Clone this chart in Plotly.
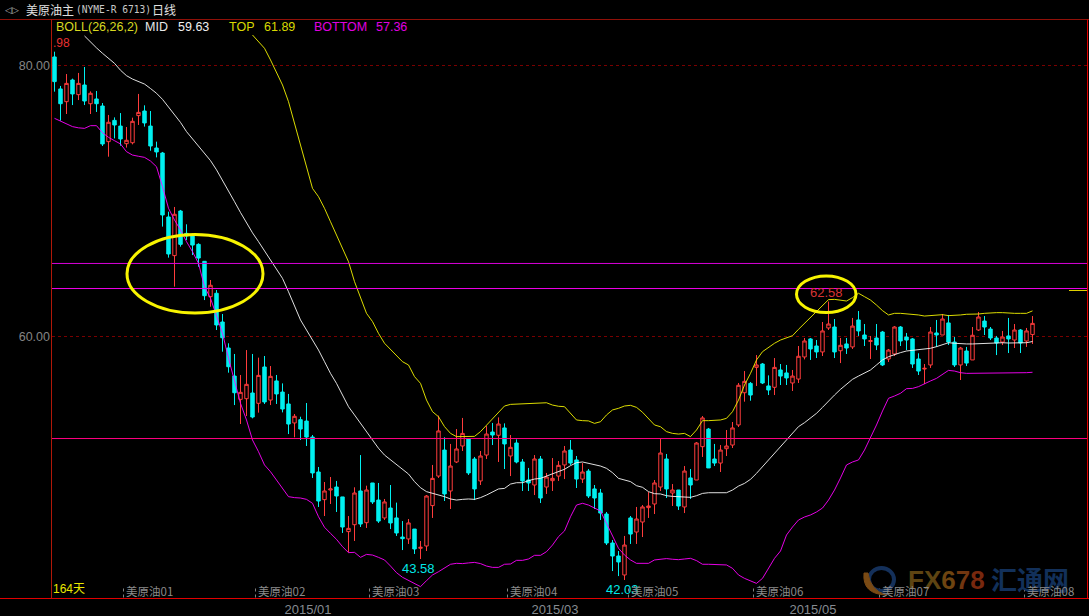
import plotly.graph_objects as go

open_ = [80.63,78.27,77.33,78.93,77.85,78.56,77.18,77.53,77.01,74.38,
75.95,75.53,74.23,74.30,76.30,76.64,75.53,73.91,73.54,68.82,
65.97,69.26,67.61,67.47,66.80,65.55,62.94,63.19,61.07,59.15,
57.08,55.36,55.41,55.83,55.07,57.75,55.31,56.72,55.90,55.02,
53.62,53.86,53.76,52.58,50.00,47.96,48.67,48.89,48.16,45.60,
46.11,48.60,46.26,49.19,47.93,46.61,47.34,46.61,45.20,45.06,
45.79,44.37,44.54,47.52,49.70,51.62,48.60,50.74,51.92,52.44,
50.96,49.34,51.25,52.95,52.71,53.25,51.18,52.14,50.74,49.41,
49.04,50.96,48.89,49.36,49.70,50.52,51.62,50.89,49.48,50.07,
48.75,48.45,46.90,44.76,43.80,42.40,46.61,45.57,46.31,47.37,
47.64,48.89,50.96,48.45,48.67,47.42,49.56,49.41,51.87,53.17,
50.96,50.66,51.72,51.99,53.47,55.85,56.54,57.72,57.97,56.35,
56.25,57.53,57.31,56.57,56.86,58.49,59.82,59.30,58.86,60.63,
60.70,58.95,59.45,59.23,61.22,60.11,59.64,59.89,60.33,58.34,
58.71,60.70,59.96,59.82,58.34,57.60,57.90,60.26,60.11,61.00,
59.59,57.90,58.93,58.27,60.48,61.14,60.55,59.89,59.59,60.04,
59.74,60.48,59.67,60.14]

close = [78.81,77.18,78.68,77.90,78.68,77.38,77.95,77.18,74.21,75.81,
75.61,74.58,74.48,75.88,76.54,75.76,74.06,73.62,68.97,66.09,
69.02,66.80,67.42,66.75,65.79,63.01,63.78,60.85,59.91,57.77,
55.85,55.88,56.47,54.06,57.13,55.17,57.06,55.76,54.65,53.54,
54.11,53.17,52.58,49.93,47.86,48.60,48.75,48.23,45.94,45.84,
48.45,46.16,48.67,47.79,46.38,47.79,46.24,45.50,45.08,46.24,
44.32,44.44,48.23,49.53,53.03,48.38,50.44,51.70,52.85,49.93,
48.75,51.18,52.80,52.73,53.54,52.07,51.82,50.74,49.34,49.19,
50.96,48.08,49.63,49.53,50.49,51.55,50.66,49.48,50.00,48.23,
48.08,46.97,44.76,43.80,43.36,44.61,45.42,46.53,47.42,47.49,
49.19,51.40,48.75,48.67,47.49,50.07,49.04,52.14,53.99,50.30,
50.66,51.62,51.92,53.25,56.40,56.69,55.68,57.90,56.57,56.05,
57.72,57.08,56.94,57.08,58.54,59.67,59.08,58.86,60.41,60.92,
58.86,59.35,59.15,60.77,60.41,59.82,59.69,59.37,57.90,59.00,
60.70,59.67,59.74,57.97,57.45,57.65,60.33,60.11,61.29,59.59,
57.90,59.15,58.04,60.09,61.44,60.70,59.89,59.52,59.96,59.82,
60.48,59.52,60.41,60.97]

high = [81.02,78.49,79.37,79.03,79.45,79.89,78.09,78.12,77.23,76.35,
76.17,76.49,75.46,76.15,77.90,77.06,76.64,74.38,73.62,69.21,
69.56,69.34,68.28,67.61,66.88,65.57,64.17,63.43,61.66,59.50,
58.71,57.16,59.00,58.71,58.44,58.56,57.82,57.16,56.54,55.76,
54.28,54.08,55.09,52.73,50.37,49.26,49.63,49.34,48.16,46.75,
48.87,51.25,48.99,49.19,49.19,48.01,49.04,47.74,46.38,46.53,
45.79,44.91,48.30,50.52,54.16,52.56,52.07,53.17,53.99,52.48,
51.11,51.55,53.39,53.62,54.03,53.59,52.73,52.41,50.96,50.30,
51.25,51.18,49.93,51.03,50.81,51.92,52.36,51.18,50.66,50.22,
49.04,48.75,47.05,44.98,44.17,45.28,46.75,47.42,47.56,48.52,
49.41,52.44,51.33,49.11,48.67,50.44,50.22,52.21,54.13,53.25,
52.07,51.99,53.10,53.69,56.57,57.45,56.64,58.63,58.04,57.13,
58.41,57.97,57.90,57.53,59.30,59.89,59.89,59.74,61.07,62.58,
61.29,59.89,59.89,61.37,61.88,60.92,60.04,60.92,60.41,59.08,
60.77,60.77,60.26,59.89,58.76,57.97,60.70,61.22,61.66,61.59,
59.96,59.23,59.23,60.70,61.81,61.51,60.70,60.04,60.41,61.37,
60.92,60.55,60.63,61.51]

low = [78.07,75.93,76.42,77.08,77.45,77.08,76.42,76.57,74.06,73.27,
74.62,74.08,73.94,74.18,75.61,75.49,73.71,73.22,68.11,65.82,
63.68,66.63,67.12,66.01,65.15,62.69,62.20,60.48,58.88,57.33,
54.94,53.54,54.13,53.96,54.38,55.02,54.94,55.02,54.40,52.80,
52.56,52.36,51.92,49.56,47.42,46.75,47.64,47.05,45.50,44.07,
44.91,45.94,45.87,47.64,46.24,46.46,45.79,45.28,44.24,44.69,
43.95,43.58,44.17,46.61,49.56,47.86,47.27,50.66,51.55,49.78,
47.93,49.04,50.96,51.99,50.74,50.22,49.70,50.64,48.60,48.60,
48.30,47.71,48.38,48.60,49.34,49.48,50.52,48.82,49.19,48.08,
47.27,46.46,44.61,42.69,42.32,42.03,44.69,44.69,45.20,46.61,
46.90,48.60,48.08,47.49,47.20,46.97,48.01,49.41,51.11,50.30,
50.44,50.00,51.18,51.77,53.32,55.19,55.26,56.35,56.49,55.68,
55.68,56.42,56.42,55.98,56.57,58.31,58.27,58.41,58.56,60.48,
58.41,58.04,58.71,59.08,60.04,59.30,58.34,59.00,57.82,58.12,
58.56,59.30,59.00,57.68,57.16,56.49,57.68,59.23,60.11,59.37,
57.75,56.79,57.82,58.27,60.41,60.11,59.74,58.63,59.37,58.78,
59.15,58.78,59.23,59.45]

# Bollinger lines; each one begins where it enters the panel
mid_first = 5
boll_mid = [82.18,81.70,81.30,80.90,80.50,
80.16,79.65,79.25,79.00,78.80,78.63,78.30,77.95,77.50,76.96,
76.42,75.80,75.12,74.60,74.08,73.55,72.98,72.30,71.55,70.75,
69.95,69.15,68.35,67.65,67.00,66.30,65.65,65.00,64.29,63.30,
62.32,61.22,60.48,59.74,59.00,58.14,57.28,56.54,55.68,54.82,
54.21,53.59,52.98,52.36,51.75,51.25,50.89,50.52,50.15,49.85,
49.29,48.84,48.55,48.43,48.30,48.18,48.01,47.93,47.98,48.01,
47.98,48.11,48.30,48.50,48.75,48.79,49.11,49.21,49.21,49.36,
49.48,49.53,49.70,49.85,49.98,50.20,50.47,50.69,50.74,50.64,
50.49,50.44,50.27,49.95,49.53,49.41,49.29,48.99,48.87,48.55,
48.40,48.38,48.25,48.20,48.18,48.18,48.13,48.25,48.42,48.47,
48.47,48.47,48.47,48.67,48.96,49.16,49.46,49.90,50.39,50.89,
51.38,51.82,52.36,52.85,53.35,53.64,53.96,54.33,54.77,55.26,
55.68,56.10,56.49,56.84,57.08,57.28,57.53,57.90,58.27,58.51,
58.68,58.81,58.93,58.98,59.00,59.05,59.13,59.25,59.40,59.54,
59.50,59.45,59.45,59.45,59.47,59.50,59.54,59.57,59.54,59.52,
59.52,59.54,59.54,59.63]

top_first = 33
boll_top = [82.25,81.76,81.27,80.41,79.54,78.56,77.33,75.73,74.26,72.53,
70.93,70.32,69.46,68.47,67.49,66.51,65.52,64.05,62.94,61.71,
61.10,60.23,59.50,59.05,58.63,58.14,57.90,57.04,56.54,55.31,
54.45,54.08,53.35,52.85,52.61,52.61,52.61,52.63,52.98,53.47,
53.96,54.45,54.87,54.99,55.01,55.04,55.09,55.11,55.14,55.11,
54.94,54.85,54.82,54.33,53.84,53.79,53.77,53.59,53.71,54.21,
54.58,54.70,54.87,54.92,54.77,54.41,53.96,53.47,53.34,52.98,
52.85,52.80,52.85,52.61,53.10,53.79,53.79,53.79,53.84,53.96,
54.45,55.31,56.42,57.28,58.27,58.88,59.20,59.50,59.74,59.91,
60.06,60.53,60.97,61.46,61.91,62.32,62.72,62.74,62.69,62.62,
62.87,63.19,62.94,62.69,62.32,61.91,61.59,61.71,61.71,61.68,
61.64,61.59,61.51,61.54,61.56,61.61,61.54,61.54,61.59,61.64,
61.64,61.66,61.71,61.76,61.76,61.76,61.71,61.71,61.71,61.71,61.89]

boll_bottom = [76.10,75.90,75.68,75.49,75.40,75.36,75.56,75.56,75.04,74.70,
74.45,74.21,73.64,73.39,73.30,73.22,72.95,72.53,71.06,69.46,
68.60,67.86,67.00,66.26,65.40,63.68,62.82,61.46,60.23,58.39,
56.79,55.07,53.84,52.36,51.50,50.52,50.02,49.41,48.79,48.18,
48.11,48.08,47.98,47.69,46.70,45.92,45.47,45.03,44.49,44.05,
44.07,43.70,43.92,43.87,43.70,43.51,43.06,42.57,42.23,41.98,
41.78,41.54,41.98,42.40,42.64,42.89,43.19,43.26,43.24,43.29,
43.33,43.24,43.06,42.96,42.96,43.19,43.21,43.48,43.48,43.58,
43.85,43.85,44.12,44.61,45.23,45.65,46.70,47.56,47.69,47.56,
47.32,47.12,46.21,45.23,44.37,43.87,43.51,43.26,43.26,43.26,
43.51,43.58,43.61,43.56,43.53,43.58,43.63,43.46,43.19,43.19,
43.19,43.19,43.14,42.89,42.40,42.15,41.98,41.78,42.15,42.89,
43.63,44.17,45.35,45.94,46.46,46.68,46.83,47.05,47.34,47.93,
48.67,49.56,50.52,50.74,50.89,51.62,52.51,53.47,54.50,55.44,
55.61,55.81,56.15,56.17,56.30,56.54,56.72,56.91,57.23,57.50,
57.45,57.33,57.28,57.28,57.28,57.28,57.28,57.28,57.33,57.33,
57.33,57.33,57.33,57.36]

assert len(open_) == len(close) == len(high) == len(low) == len(boll_bottom) == 164
assert mid_first + len(boll_mid) == 164 and top_first + len(boll_top) == 164

level_prices = [65.39, 63.54, 52.47]
level_colors = ["#d800d8", "#f000e8", "#ff0080"]
axis_prices = [60, 80]
axis_labels = ["60.00", "80.00"]
month_labels = ["2015/01", "2015/03", "2015/05"]
month_pos = [42.25, 83.4, 126.4]
contract_labels = ["美原油01", "美原油02", "美原油03", "美原油04", "美原油05", "美原油06", "美原油07", "美原油08"]
contract_pos = [11.5, 33.5, 52.5, 75.5, 95.67, 116.5, 137.5, 161.67]

W, H = 1089, 616
L, R, T, B = 52, 1087, 19, 598
fx = lambda px: (px - L) / (R - L)
fy = lambda py: (B - py) / (B - T)

x = list(range(len(open_)))
fig = go.Figure()
fig.add_trace(go.Candlestick(
    x=x, open=open_, high=high, low=low, close=close, whiskerwidth=0,
    increasing=dict(line=dict(color="#ff3c3c", width=1), fillcolor="#000000"),
    decreasing=dict(line=dict(color="#00f0f0", width=1), fillcolor="#00f0f0"),
    showlegend=False, hoverinfo="skip"))
for first, vals, col in [(mid_first, boll_mid, "#f8f8f8"),
                         (top_first, boll_top, "#f4f400"),
                         (0, boll_bottom, "#ff00ff")]:
    fig.add_trace(go.Scatter(x=x[first:], y=vals, mode="lines",
                             line=dict(color=col, width=0.9), showlegend=False, hoverinfo="skip"))

shapes = []
for p, c in zip(level_prices, level_colors):
    shapes.append(dict(type="line", xref="paper", yref="y", x0=fx(51.5), x1=fx(1087.5), y0=p, y1=p,
                       line=dict(color=c, width=1), layer="above"))
# panel frame
shapes += [
    dict(type="line", xref="paper", yref="paper", x0=fx(0), x1=fx(W), y0=fy(19.5), y1=fy(19.5), line=dict(color="#901008", width=1)),
    dict(type="line", xref="paper", yref="paper", x0=fx(0), x1=fx(W), y0=fy(598.5), y1=fy(598.5), line=dict(color="#e00000", width=1)),
    dict(type="line", xref="paper", yref="paper", x0=fx(51.5), x1=fx(51.5), y0=fy(19.5), y1=fy(598.5), line=dict(color="#b01808", width=1)),
    dict(type="line", xref="paper", yref="paper", x0=fx(1087.5), x1=fx(1087.5), y0=fy(19.5), y1=fy(598.5), line=dict(color="#e00000", width=1)),
    dict(type="line", xref="paper", yref="paper", x0=fx(1069), x1=fx(1087), y0=fy(290.5), y1=fy(290.5), line=dict(color="#e0d000", width=1)),
]
# hand-drawn ellipses
for l, r, t, b in [(127, 263, 234.5, 313), (796.5, 856, 276, 312.5)]:
    shapes.append(dict(type="circle", xref="paper", yref="paper", x0=fx(l), x1=fx(r), y0=fy(b), y1=fy(t),
                       line=dict(color="#f8f400", width=3), layer="above"))
# contract markers
for c in contract_pos:
    shapes.append(dict(type="line", xref="x", yref="paper", x0=c, x1=c, y0=fy(597.5), y1=fy(587),
                       line=dict(color="#808080", width=1, dash="dot")))
# watermark logo
shapes += [
    dict(type="circle", xref="paper", yref="paper", x0=fx(869), x1=fx(894), y0=fy(591), y1=fy(568),
         line=dict(color="#14305a", width=4)),
    dict(type="path", xref="paper", yref="paper",
         path=f"M {fx(864)} {fy(573)} Q {fx(862)} {fy(594)} {fx(886)} {fy(595)} Q {fx(870)} {fy(590)} {fx(868)} {fy(573)} Z",
         fillcolor="#7a4a14", line=dict(color="#7a4a14", width=1)),
]

CJK = "Noto Sans CJK SC"
LAT = "Liberation Sans"
ann = []
def text(px, py, s, color, size=12.5, anchor="left", family=LAT):
    ann.append(dict(xref="paper", yref="paper", x=fx(px), y=fy(py), text=s, showarrow=False,
                    xanchor=anchor, yanchor="middle", align=anchor, borderpad=0, borderwidth=0,
                    font=dict(color=color, size=size, family=family)))

text(5, 10, "◁▷", "#b0b0b0", 9, family="DejaVu Sans")
text(26, 10, "美原油主", "#e0e0e0", 12, family=CJK)
text(76, 10, "(NYME-R 6713)", "#c8c8c8", 9.6, family="DejaVu Sans Mono")
text(152, 10, "日线", "#e0e0e0", 12, family=CJK)
text(56, 27, "BOLL(26,26,2)", "#d8d820")
text(145, 27, "MID", "#e8e8e8")
text(178, 27, "59.63", "#f0f0f0")
text(229, 27, "TOP", "#d8d800")
text(264, 27, "61.89", "#d8d800")
text(314, 27, "BOTTOM", "#e000e0")
text(376, 27, "57.36", "#e000e0")
text(53, 43.5, ".98", "#e83030", 12)
text(53, 589, "164天", "#e8e800", 12, family="Liberation Sans, Noto Sans CJK SC")
text(402, 568, "43.58", "#00e8e8", 13)
text(606, 589.5, "42.03", "#00e8e8", 13)
text(826, 292.7, "62.58", "#d83434", 13, anchor="center")
# watermark
text(908, 579.5,
     "<b><span style='color:#5e4412'>FX</span><span style='color:#6e4410'>6</span>"
     "<span style='color:#723610'>7</span><span style='color:#78280e'>8</span></b>",
     "#5e4412", 26)
text(991, 578, "<b>汇通网</b>", "#12305a", 26, family=CJK)

for s, c in zip(contract_labels, contract_pos):
    ann.append(dict(xref="x", yref="paper", x=c, y=fy(591), text=s, showarrow=False, xanchor="left", yanchor="middle",
                    xshift=2.5, borderpad=0, borderwidth=0, font=dict(color="#8a8a8a", size=11.5, family=CJK)))

fig.update_layout(
    width=W, height=H, autosize=False,
    margin=dict(l=L, r=W - R, t=T, b=H - B, pad=0, autoexpand=False),
    paper_bgcolor="#000000", plot_bgcolor="#000000",
    showlegend=False, boxgap=0.18, shapes=shapes, annotations=ann,
    xaxis=dict(range=[-2.5 / 6, (R - 54.5) / 6], rangeslider=dict(visible=False), showgrid=False, zeroline=False,
               showline=False, automargin=False, ticks="", tickmode="array", tickvals=month_pos, ticktext=month_labels,
               tickfont=dict(color="#858a90", size=13, family=LAT), ticklabelstandoff=2),
    yaxis=dict(range=[60 + (336.5 - 598) * 0.0738, 60 + (336.5 - 19) * 0.0738], showgrid=True, automargin=False,
               gridcolor="#7a0000", griddash="dot", gridwidth=1, zeroline=False, showline=False,
               ticks="", tickmode="array", tickvals=axis_prices, ticktext=axis_labels,
               tickfont=dict(color="#858585", size=12.5, family=LAT), ticklabelstandoff=1),
)
fig.write_html(
    "out.html",
    config={"displayModeBar": False},
    post_script=("document.body.style.margin='0';document.body.style.background='#000';"
                 "document.documentElement.style.overflow='hidden';"),
)
